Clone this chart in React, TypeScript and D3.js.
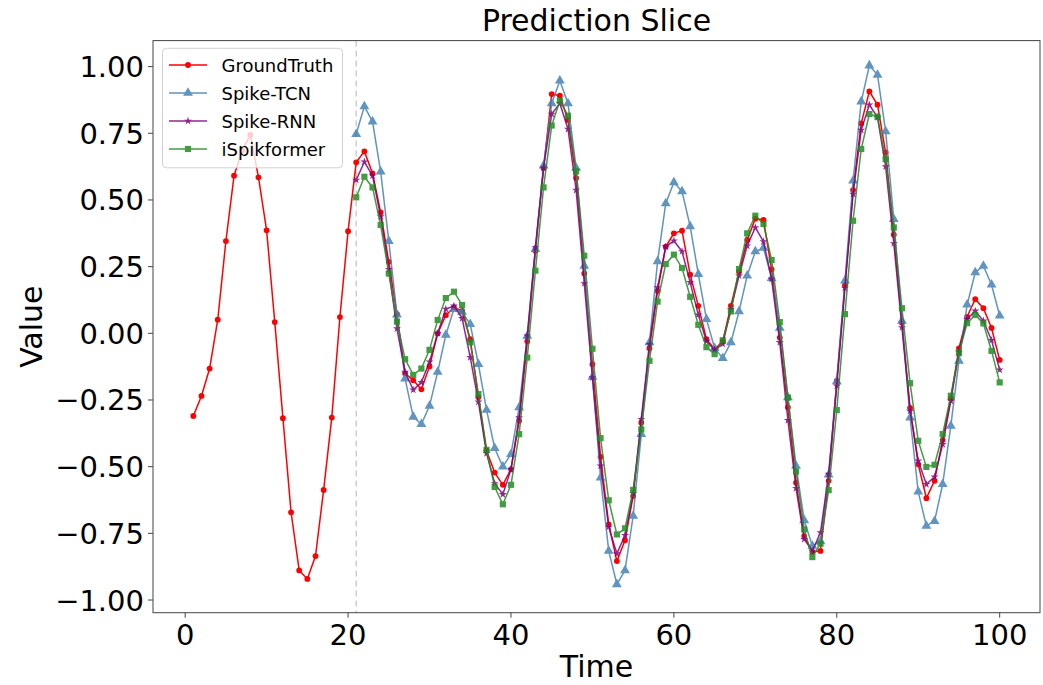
import React from "react";
import * as d3 from "d3";

const W = 1043;
const H = 685;

const gtTimes = d3.range(1, 101);
const groundTruth = [
  -0.31, -0.235, -0.132, 0.051, 0.346, 0.591, 0.685, 0.744, 0.585, 0.386,
  0.042, -0.318, -0.671, -0.889, -0.921, -0.835, -0.587, -0.316, 0.061, 0.383,
  0.641, 0.682, 0.6, 0.453, 0.268, 0.072, -0.15, -0.176, -0.21, -0.124,
  0.0, 0.068, 0.097, 0.084, -0.022, -0.24, -0.44, -0.522, -0.568, -0.51,
  -0.328, -0.03, 0.31, 0.62, 0.897, 0.891, 0.8, 0.582, 0.224, -0.116,
  -0.463, -0.716, -0.854, -0.776, -0.61, -0.335, -0.056, 0.159, 0.325, 0.375,
  0.385, 0.22, 0.103, -0.022, -0.06, -0.03, 0.103, 0.23, 0.35, 0.43,
  0.425, 0.24, -0.016, -0.278, -0.56, -0.76, -0.82, -0.816, -0.553, -0.178,
  0.18, 0.537, 0.787, 0.907, 0.857, 0.678, 0.37, 0.04, -0.28, -0.491,
  -0.618, -0.553, -0.4, -0.245, -0.056, 0.062, 0.128, 0.094, 0.02, -0.1,
];

const predTimes = d3.range(21, 101);
const spikeTCN = [
  0.747, 0.851, 0.794, 0.606, 0.346, 0.07, -0.17, -0.313, -0.341, -0.272,
  -0.145, -0.006, 0.091, 0.08, 0.034, -0.116, -0.287, -0.431, -0.5, -0.453,
  -0.278, -0.01, 0.316, 0.629, 0.862, 0.947, 0.862, 0.62, 0.253, -0.163,
  -0.541, -0.816, -0.941, -0.889, -0.685, -0.378, -0.034, 0.27, 0.487, 0.566,
  0.532, 0.401, 0.222, 0.053, -0.056, -0.093, -0.034, 0.082, 0.216, 0.307,
  0.32, 0.207, 0.02, -0.24, -0.497, -0.701, -0.797, -0.78, -0.53, -0.18,
  0.197, 0.572, 0.869, 1.004, 0.969, 0.757, 0.428, 0.047, -0.316, -0.594,
  -0.722, -0.704, -0.566, -0.347, -0.103, 0.107, 0.228, 0.253, 0.182, 0.066,
];
const spikeRNN = [
  0.575, 0.643, 0.591, 0.438, 0.24, 0.018, -0.145, -0.212, -0.184, -0.107,
  0.0, 0.091, 0.103, 0.056, -0.09, -0.257, -0.45, -0.563, -0.604, -0.51,
  -0.316, -0.009, 0.322, 0.62, 0.822, 0.862, 0.766, 0.537, 0.187, -0.166,
  -0.497, -0.726, -0.826, -0.757, -0.6, -0.322, -0.041, 0.172, 0.325, 0.347,
  0.307, 0.191, 0.069, -0.03, -0.062, -0.04, 0.09, 0.216, 0.328, 0.397,
  0.344, 0.203, -0.034, -0.326, -0.581, -0.772, -0.816, -0.747, -0.528, -0.197,
  0.17, 0.522, 0.762, 0.857, 0.81, 0.625, 0.337, 0.022, -0.291, -0.478,
  -0.566, -0.538, -0.416, -0.253, -0.07, 0.053, 0.084, 0.047, -0.026, -0.137,
];
const iSpikformer = [
  0.51, 0.587, 0.547, 0.406, 0.224, 0.044, -0.097, -0.156, -0.132, -0.062,
  0.05, 0.132, 0.156, 0.106, -0.034, -0.228, -0.437, -0.576, -0.641, -0.568,
  -0.378, -0.091, 0.235, 0.547, 0.779, 0.872, 0.816, 0.607, 0.291, -0.058,
  -0.393, -0.626, -0.754, -0.731, -0.587, -0.36, -0.103, 0.119, 0.26, 0.295,
  0.245, 0.137, 0.032, -0.052, -0.078, -0.026, 0.082, 0.241, 0.375, 0.441,
  0.41, 0.275, 0.042, -0.241, -0.518, -0.735, -0.839, -0.789, -0.588, -0.288,
  0.072, 0.422, 0.691, 0.822, 0.812, 0.653, 0.397, 0.094, -0.187, -0.403,
  -0.501, -0.493, -0.378, -0.234, -0.074, 0.038, 0.069, 0.037, -0.066, -0.184,
];

const xTicks = [0, 20, 40, 60, 80, 100];
const yTicks = [-1.0, -0.75, -0.5, -0.25, 0.0, 0.25, 0.5, 0.75, 1.0];
const splitTime = 21;

const seriesList = [
  { name: "GroundTruth", times: gtTimes, values: groundTruth, color: "#ff0000", symbol: d3.symbolCircle, size: 26, opacity: 1 },
  { name: "Spike-TCN", times: predTimes, values: spikeTCN, color: "#4682b4", symbol: d3.symbolTriangle, size: 42, opacity: 0.85 },
  { name: "Spike-RNN", times: predTimes, values: spikeRNN, color: "#800080", symbol: d3.symbolStar, size: 20, opacity: 0.85 },
  { name: "iSpikformer", times: predTimes, values: iSpikformer, color: "#228b22", symbol: d3.symbolSquare, size: 38, opacity: 0.85 },
];

const FONT = "DejaVu Sans, sans-serif";

export default function App() {
  const left = 153, right = 1040, top = 40.6, bottom = 612.7;
  const x = d3.scaleLinear().domain([-3.95, 104.95]).range([left, right]);
  const y = d3.scaleLinear().domain([-1.0475, 1.0975]).range([bottom, top]);
  const fmt = (v: number) => (v < 0 ? "\u2212" : "") + Math.abs(v).toFixed(2);

  const line = d3.line<[number, number]>().x((d) => x(d[0])).y((d) => y(d[1]));

  const legX = 162.5, legY = 48.3, legW = 180, legH = 119.5;

  return (
    <svg width={W} height={H} style={{ position: "absolute", left: 0, top: 0, background: "#fff" }} fontFamily={FONT}>
      <defs>
        <clipPath id="plotclip">
          <rect x={left} y={top} width={right - left} height={bottom - top} />
        </clipPath>
      </defs>
      <rect x={0} y={0} width={W} height={H} fill="#fff" />
      <line x1={x(splitTime)} x2={x(splitTime)} y1={top} y2={bottom} stroke="#cfcfcf" strokeWidth={1.5} strokeDasharray="6,4" />
      <g clipPath="url(#plotclip)">
        {seriesList.map((s) => {
          const pts: [number, number][] = s.times.map((t, i) => [t, s.values[i]]);
          const sym = d3.symbol().type(s.symbol).size(s.size)() as string;
          return (
            <g key={s.name} opacity={s.opacity}>
              <path d={line(pts) as string} fill="none" stroke={s.color} strokeWidth={1.5} />
              {pts.map((p, i) => (
                <path key={i} d={sym} transform={`translate(${x(p[0])},${y(p[1])})`} fill={s.color} />
              ))}
            </g>
          );
        })}
      </g>
      <rect x={left} y={top} width={right - left} height={bottom - top} fill="none" stroke="#444" strokeWidth={1} />
      {xTicks.map((t) => (
        <g key={"x" + t}>
          <line x1={x(t)} x2={x(t)} y1={bottom} y2={bottom + 5} stroke="#444" strokeWidth={1} />
          <text x={x(t)} y={bottom + 32} fontSize={29} textAnchor="middle" fill="#000">{t}</text>
        </g>
      ))}
      {yTicks.map((t) => (
        <g key={"y" + t}>
          <line x1={left - 5} x2={left} y1={y(t)} y2={y(t)} stroke="#444" strokeWidth={1} />
          <text x={left - 9} y={y(t) + 10.5} fontSize={29} textAnchor="end" fill="#000">{fmt(t)}</text>
        </g>
      ))}
      <text x={(left + right) / 2} y={677} fontSize={30} textAnchor="middle" fill="#000">Time</text>
      <text transform={`translate(42,${(top + bottom) / 2}) rotate(-90)`} fontSize={30} textAnchor="middle" fill="#000">Value</text>
      <text x={(left + right) / 2} y={31} fontSize={30} textAnchor="middle" fill="#000">Prediction Slice</text>
      <rect x={legX} y={legY} width={legW} height={legH} rx={4} fill="#fff" fillOpacity={0.8} stroke="#d0d0d0" strokeWidth={1} />
      {seriesList.map((s, i) => {
        const cy = 65 + i * 28;
        const sym = d3.symbol().type(s.symbol).size(s.size)() as string;
        return (
          <g key={"leg" + s.name}>
            <g opacity={s.opacity}>
              <line x1={169} x2={207} y1={cy} y2={cy} stroke={s.color} strokeWidth={1.5} />
              <path d={sym} transform={`translate(188,${cy})`} fill={s.color} />
            </g>
            <text x={221.5} y={cy + 6.5} fontSize={18} fill="#000">{s.name}</text>
          </g>
        );
      })}
    </svg>
  );
}
